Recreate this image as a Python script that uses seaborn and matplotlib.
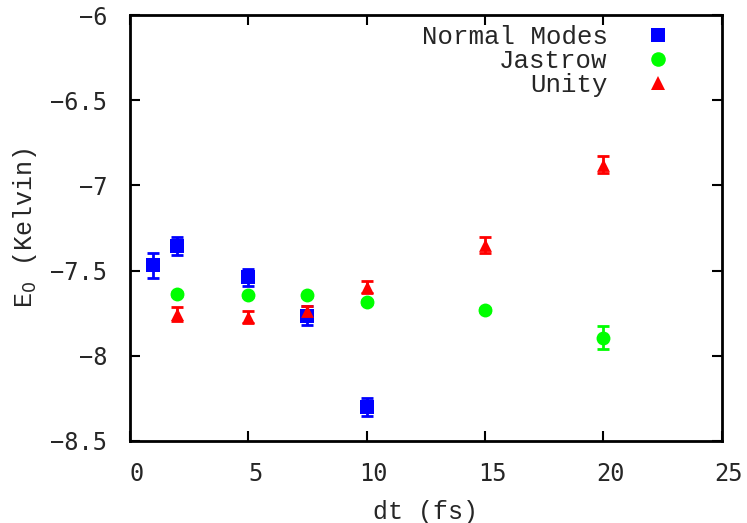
import matplotlib
matplotlib.use("Agg")
import matplotlib.pyplot as plt
import matplotlib.transforms as mtransforms
import seaborn as sns
import pandas as pd
from matplotlib.lines import Line2D

# Ground-state energy vs. time step for three trial wavefunctions
nm_dt = [1.0, 2.0, 5.0, 7.5, 10.0]
nm_e = [-7.47, -7.355, -7.54, -7.765, -8.30]
nm_err = [0.075, 0.055, 0.05, 0.055, 0.055]

ja_dt = [2.0, 5.0, 7.5, 10.0, 15.0, 20.0]
ja_e = [-7.637, -7.645, -7.645, -7.684, -7.731, -7.893]
ja_err = [0.01, 0.01, 0.01, 0.01, 0.01, 0.066]

un_dt = [2.0, 5.0, 7.5, 10.0, 15.0, 20.0]
un_e = [-7.755, -7.774, -7.735, -7.598, -7.35, -6.88]
un_err = [0.04, 0.035, 0.03, 0.035, 0.045, 0.05]

series = ["Normal Modes", "Jastrow", "Unity"]
colors = {"Normal Modes": "#0000ff", "Jastrow": "#00ff00", "Unity": "#ff0000"}
markers = {"Normal Modes": "s", "Jastrow": "o", "Unity": "^"}
sizes = {"Normal Modes": 100, "Jastrow": 100, "Unity": 85}

df = pd.concat([
    pd.DataFrame({"dt": nm_dt, "E0": nm_e, "err": nm_err, "trial": "Normal Modes"}),
    pd.DataFrame({"dt": ja_dt, "E0": ja_e, "err": ja_err, "trial": "Jastrow"}),
    pd.DataFrame({"dt": un_dt, "E0": un_e, "err": un_err, "trial": "Unity"}),
], ignore_index=True)

sns.set_style("ticks")
fig = plt.figure(figsize=(7.47, 5.23), dpi=100)
ax = fig.add_axes([0.1734, 0.1568, 0.7931, 0.8145])

for name in series:
    sub = df[df["trial"] == name]
    ax.errorbar(sub["dt"], sub["E0"], yerr=sub["err"], fmt="none",
                ecolor=colors[name], elinewidth=2, capsize=4.5, capthick=2, zorder=2)
    sns.scatterplot(data=sub, x="dt", y="E0", ax=ax, color=colors[name],
                    marker=markers[name], s=sizes[name], linewidth=0,
                    zorder=3, legend=False)

ax.set_xlim(0, 25)
ax.set_ylim(-8.5, -6)
ax.set_xticks([0, 5, 10, 15, 20, 25])
ax.set_yticks([-8.5, -8, -7.5, -7, -6.5, -6])
ax.set_yticklabels(["\u22128.5", "\u22128", "\u22127.5", "\u22127", "\u22126.5", "\u22126"])

ax.tick_params(axis="x", direction="in", length=7, width=1.5, top=True,
               color="black", pad=15)
ax.tick_params(axis="y", direction="in", length=7, width=1.5, right=True,
               color="black", pad=16)
for sp in ax.spines.values():
    sp.set_visible(True)
    sp.set_linewidth(2)
    sp.set_color("black")

mono_sans = "DejaVu Sans Mono"
mono_serif = "Liberation Mono"
# x tick labels sit a little to the right of their ticks
shift = mtransforms.ScaledTranslation(7 / 100, 0, fig.dpi_scale_trans)
for tick in ax.xaxis.get_major_ticks():
    tick.label1.set_transform(tick.label1.get_transform() + shift)
    tick.label1.set_fontfamily(mono_sans)
    tick.label1.set_fontsize(17)
for tick in ax.yaxis.get_major_ticks():
    tick.label1.set_fontfamily(mono_sans)
    tick.label1.set_fontsize(17)

ax.set_xlabel("dt (fs)", fontfamily=mono_serif, fontsize=18, labelpad=10)
ax.set_ylabel("E$_0$ (Kelvin)", fontfamily=mono_serif, fontsize=18, labelpad=8)

handles = [Line2D([], [], linestyle="none", marker=markers[n], color=colors[n],
                  markersize=10.5 if n != "Unity" else 9.5, markeredgewidth=0)
           for n in series]
leg = ax.legend(handles, series, loc="upper right", markerfirst=False,
                frameon=False, prop={"family": mono_serif, "size": 18.5},
                handletextpad=1.2, labelspacing=0.0, borderaxespad=0.0,
                handlelength=1.5, bbox_to_anchor=(0.9415, 1.0))
for t in leg.get_texts():
    t.set_ha("right")
leg._legend_box.align = "right"

fig.savefig("out.png", dpi=100)
